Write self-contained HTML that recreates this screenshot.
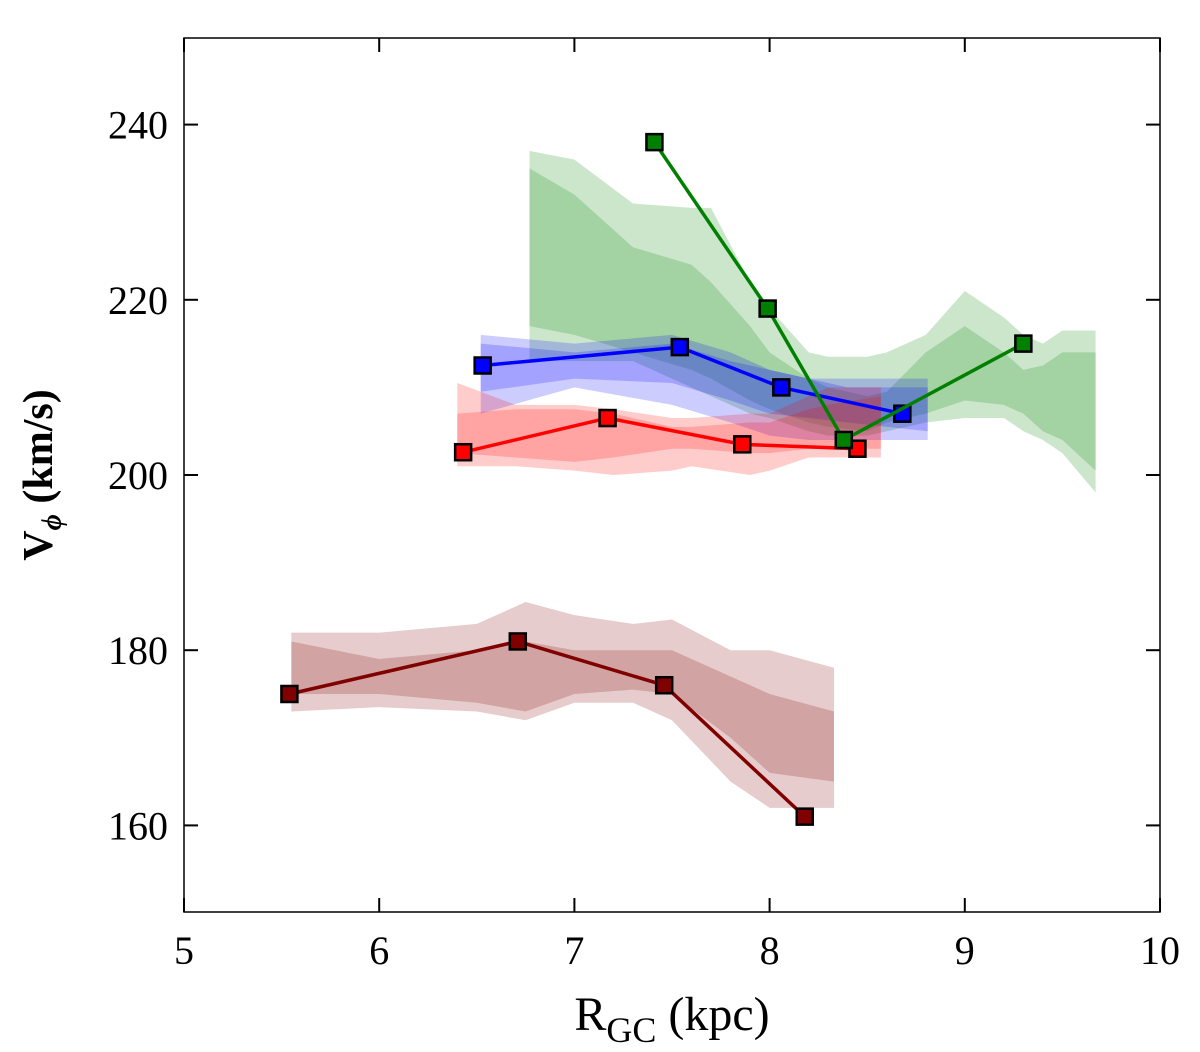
<!DOCTYPE html>
<html><head><meta charset="utf-8"><style>
body{margin:0;background:#fff}
svg{display:block}
text{font-family:"Liberation Serif",serif;fill:#000}
</style></head><body>
<svg id="chart" width="1200" height="1052" xmlns="http://www.w3.org/2000/svg">
<g id="bands"></g>
<g id="series"></g>
<rect x="184" y="38" width="976" height="874" fill="none" stroke="#000" stroke-width="1.5"/>
<g id="axes"></g>
<text x="672" y="1030" font-size="48" text-anchor="middle">R<tspan font-size="36" dy="12">GC</tspan><tspan dy="-12"> (kpc)</tspan></text>
<text transform="translate(52,475) rotate(-90)" font-size="42" font-weight="bold" text-anchor="middle">V<tspan font-size="28" font-style="italic" dy="9">ϕ</tspan><tspan dy="-9"> (km/s)</tspan></text>
</svg>
<script>
const xTicks=[5,6,7,8,9,10];
const yTicks=[160,180,200,220,240];
const seriesColors=["#800000","#ff0000","#0000ff","#008000"];
const darkredX=[5.54,6.71,7.46,8.18], darkredY=[175,181,176,161];
const redX=[6.43,7.17,7.86,8.45], redY=[202.6,206.5,203.5,203];
const blueX=[6.53,7.54,8.06,8.68], blueY=[212.5,214.6,210,207];
const greenX=[7.41,7.99,8.38,9.30], greenY=[238,219,204,215];
// bands: x, outer upper, outer lower, inner upper, inner lower
const drBandX=[5.55,6.0,6.5,6.75,7.0,7.3,7.5,7.8,8.0,8.33];
const drOutU=[182,182,183,185.5,184,183,183.5,180,180,178];
const drOutL=[173,173.5,173,172,174,174,172,165,162,162];
const drInU=[181,179,180,181,180,180,180,177,175,173];
const drInL=[175,175,174,173,175,175.5,175,170,166,165];
const rBandX=[6.4,6.7,7.0,7.2,7.5,7.6,7.9,8.0,8.2,8.3,8.57];
const rOutU=[210.5,208,208,207.5,206.5,206.5,207,207,209,210,210];
const rOutL=[201,201,200.5,200,200.5,201,200,200.5,202,202,202];
const rInU=[207,207.5,207.5,207,205.5,205.5,206,206,207.5,208,209];
const rInL=[202.5,202,201.5,202,203,203,202.5,202.5,203,203,203];
const bBandX=[6.52,7.0,7.5,7.8,8.0,8.2,8.4,8.81];
const bOutU=[216,215,216,214,212,211,211,211];
const bOutL=[207,210,208,206,204.5,204,204,204];
const bInU=[215,214,215,213,212,211,210,210];
const bInL=[209.5,211,210.5,208.5,207,206.5,206,205];
const gBandX=[6.77,7.0,7.3,7.6,7.7,7.9,8.0,8.2,8.3,8.5,8.6,8.8,9.0,9.2,9.3,9.4,9.5,9.67];
const gOutU=[237,236,231,230.5,230.5,222,219,214,213.5,213.5,214,216,221,218,216,215,216.5,216.5];
const gOutL=[213,213,213,210,209,207,206.5,205,204.5,204.5,205,206,206.5,206.5,205,204,202.5,198];
const gInU=[235,232,226,224,222,217,214,211,210,209,209.5,214,217,214,212,212.5,214,214];
const gInL=[217,216,214,212,211,208.5,207.5,206,205.5,205,206,207,208.5,208,207,205,204,200.5];
const NS="http://www.w3.org/2000/svg";
const X=v=>184+(v-5)*195.2;
const Y=v=>475-(v-200)*8.76;
const bandsG=document.getElementById('bands'),serG=document.getElementById('series'),axG=document.getElementById('axes');
function band(xs,up,lo,col,name){
  let d='M'+xs.map((x,i)=>X(x)+','+Y(up[i])).join('L');
  for(let i=xs.length-1;i>=0;i--) d+='L'+X(xs[i])+','+Y(lo[i]);
  const p=document.createElementNS(NS,'path');
  p.setAttribute('d',d+'Z');p.setAttribute('fill',col);p.setAttribute('fill-opacity','0.2');
  
  
  bandsG.appendChild(p);
}
band(gBandX,gOutU,gOutL,seriesColors[3],'green-band-outer');
band(gBandX,gInU,gInL,seriesColors[3],'green-band-inner');
band(bBandX,bOutU,bOutL,seriesColors[2],'blue-band-outer');
band(bBandX,bInU,bInL,seriesColors[2],'blue-band-inner');
band(rBandX,rOutU,rOutL,seriesColors[1],'red-band-outer');
band(rBandX,rInU,rInL,seriesColors[1],'red-band-inner');
band(drBandX,drOutU,drOutL,seriesColors[0],'darkred-band-outer');
band(drBandX,drInU,drInL,seriesColors[0],'darkred-band-inner');
function line(xs,ys,col,name){
  const pl=document.createElementNS(NS,'polyline');
  pl.setAttribute('points',xs.map((x,i)=>X(x)+','+Y(ys[i])).join(' '));
  pl.setAttribute('fill','none');pl.setAttribute('stroke',col);pl.setAttribute('stroke-width','3.5');
  
  
  serG.appendChild(pl);
  xs.forEach((x,i)=>{
    const r=document.createElementNS(NS,'rect');
    r.setAttribute('x',X(x)-8);r.setAttribute('y',Y(ys[i])-8);r.setAttribute('width',16);r.setAttribute('height',16);
    r.setAttribute('fill',col);r.setAttribute('stroke','#000');r.setAttribute('stroke-width','2.5');
    
    
    serG.appendChild(r);
  });
}
line(darkredX,darkredY,seriesColors[0],'darkred');
line(redX,redY,seriesColors[1],'red');
line(blueX,blueY,seriesColors[2],'blue');
line(greenX,greenY,seriesColors[3],'green');
function mk(tag,attrs){const e=document.createElementNS(NS,tag);for(const k in attrs)e.setAttribute(k,attrs[k]);axG.appendChild(e);return e;}
xTicks.forEach(t=>{
  const x=X(t);
  const a=mk('line',{x1:x,x2:x,y1:912,y2:898,stroke:'#000','stroke-width':2});
  
  
  const b=mk('line',{x1:x,x2:x,y1:38,y2:52,stroke:'#000','stroke-width':2});
  
  
  const tx=mk('text',{x:x,y:964,'font-size':40,'text-anchor':'middle'});
  tx.textContent=t;
  
  
});
yTicks.forEach(t=>{
  const y=Y(t);
  const a=mk('line',{x1:184,x2:198,y1:y,y2:y,stroke:'#000','stroke-width':2});
  
  
  const b=mk('line',{x1:1160,x2:1146,y1:y,y2:y,stroke:'#000','stroke-width':2});
  
  
  const tx=mk('text',{x:168,y:y+14,'font-size':40,'text-anchor':'end'});
  tx.textContent=t;
  
  
});
</script>
</body></html>
